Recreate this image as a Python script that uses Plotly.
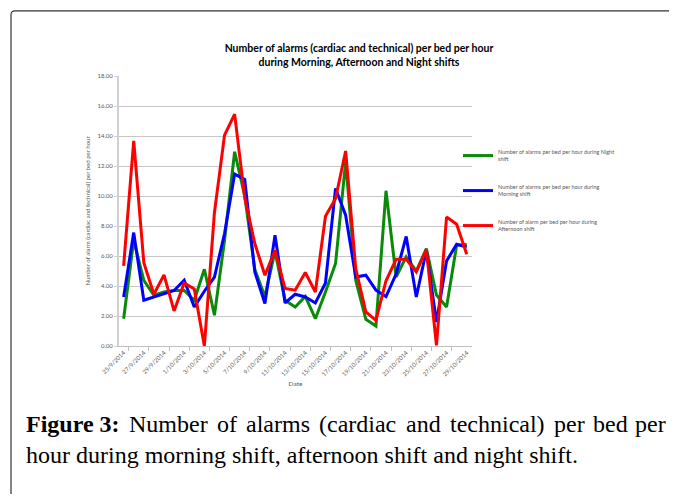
import plotly.graph_objects as go
import pandas as pd

# daily values, 25/9/2014 .. 29/10/2014
dates = pd.date_range("2014-09-25", "2014-10-29", freq="D")

night = [1.82, 7.05, 4.38, 3.38, 3.60, 3.70, 3.70, 3.05, 5.12, 2.05,
         7.05, 12.95, 10.0, 5.1, 3.3, 6.3, 3.05, 2.6, 3.3, 1.82,
         3.6, 5.5, 12.28, 4.38, 1.78, 1.33, 10.35, 4.6, 5.94, 5.0,
         6.5, 3.4, 2.6, 6.72, 6.76]
morning = [3.27, 7.56, 3.05, 3.27, 3.50, 3.70, 4.38, 2.60, 3.65, 4.60,
           7.50, 11.46, 11.10, 4.94, 2.83, 7.39, 2.87, 3.45, 3.27, 2.87,
           4.20, 10.50, 8.72, 4.60, 4.72, 3.72, 3.30, 4.80, 7.30, 3.27,
           6.38, 1.60, 5.67, 6.78, 6.60]
afternoon = [5.34, 13.68, 5.56, 3.45, 4.74, 2.34, 4.20, 3.80, 0.0, 8.90,
             14.06, 15.46, 9.90, 6.83, 4.72, 6.38, 3.83, 3.72, 4.90, 3.60,
             8.65, 9.83, 13.0, 5.16, 2.27, 1.71, 4.35, 5.78, 5.78, 4.94,
             6.43, 0.04, 8.60, 8.12, 6.12]

series_names = [
    "Number of alarms per bed per hour during Night<br>shift",
    "Number of alarms per bed per hour during<br>Morning shift",
    "Number of alarm per bed per hour during<br>Afternoon shift",
]
colors = ["#0a8a0a", "#0000ff", "#ff0000"]

tick_dates = dates[::2]
tick_text = [f"{d.day}/{d.month}/{d.year}" for d in tick_dates]

caption_words = ["Figure 3:", "Number", "of", "alarms", "(cardiac",
                 "and", "technical)", "per", "bed", "per"]
caption_line2 = "hour during morning shift, afternoon shift and night shift."

# page has an 8px body margin, so figure is drawn 8px in from the window
OFF = 8
W, H = 677 - OFF, 502 - 2 * OFF
# plot area in window pixels
L, R, T, B = 119, 472, 76, 345.7


def px(x):
    return (x - L) / (R - L)


def py(y):
    return (B - y) / (B - T)


# Times-style advance widths (1/1000 em) to justify the first caption line
_REG = dict(zip("abcdefghijklmnopqrstuvwxyz",
                [444, 500, 444, 500, 444, 333, 500, 500, 278, 278, 500, 278, 778,
                 500, 500, 500, 500, 333, 389, 278, 500, 500, 722, 500, 500, 444]))
_REG.update({"N": 722, "(": 333, ")": 333, ":": 278, " ": 250, "3": 500})
_BOLD = {"F": 611, "i": 278, "g": 500, "u": 556, "r": 444, "e": 444,
         " ": 250, "3": 500, ":": 333}


def text_width(s, size, bold=False):
    tbl = _BOLD if bold else _REG
    return sum(tbl.get(c, 500) for c in s) * size / 1000


fig = go.Figure()
for name, vals, col in zip(series_names, [night, morning, afternoon], colors):
    fig.add_trace(go.Scatter(
        x=dates, y=vals, mode="lines", name=name,
        line=dict(color=col, width=3), legendgroup=name,
    ))

# rounded frame around the figure
x0, y0, r = px(11), py(11), 4
frame = (f"M {x0},{py(520)} L {x0},{py(11 + r)} "
         f"Q {x0},{y0} {px(11 + r)},{y0} L {px(700)},{y0}")
fig.add_shape(type="path", path=frame, xref="paper", yref="paper",
              line=dict(color="#333333", width=1.2))

cap_size = 24
cap_font = dict(family="Liberation Serif", size=cap_size, color="#000000")
widths = [text_width(w, cap_size, bold=(i == 0)) for i, w in enumerate(caption_words)]
left, right = 24, 666
gap = (right - left - sum(widths)) / (len(caption_words) - 1)
cx = left
last = len(caption_words) - 1
for i, (w, ww) in enumerate(zip(caption_words, widths)):
    fig.add_annotation(
        x=px(668 if i == last else cx), y=py(424), xref="paper", yref="paper",
        xanchor="right" if i == last else "left",
        yanchor="middle", showarrow=False,
        text=f"<b>{w}</b>" if i == 0 else w, font=cap_font,
    )
    cx += ww + gap
fig.add_annotation(
    x=px(24), y=py(455), xref="paper", yref="paper", xanchor="left",
    yanchor="middle", showarrow=False, align="left",
    text=caption_line2, font=cap_font,
)

fig.update_layout(
    width=W, height=H,
    margin=dict(l=L - OFF, r=W - (R - OFF), t=T - OFF, b=H - (B - OFF), pad=0),
    paper_bgcolor="white", plot_bgcolor="white",
    font=dict(family="Lato", size=6, color="#595959"),
    title=dict(
        text="<b>Number of alarms (cardiac and technical) per bed per hour<br>"
             "during Morning, Afternoon and Night shifts</b>",
        x=(359 - OFF) / W, xanchor="center", y=1 - (52 - OFF) / H,
        yanchor="middle",
        font=dict(family="Lato", size=10.5, color="#000000"),
    ),
    xaxis=dict(
        range=[pd.Timestamp("2014-09-24 13:00"), pd.Timestamp("2014-10-29 12:30")],
        tickmode="array", tickvals=tick_dates, ticktext=tick_text,
        tickangle=-45, tickfont=dict(size=6, color="#595959"),
        showgrid=False, showline=True, linecolor="#bfbfbf", linewidth=1,
        ticks="", zeroline=False,
        minor=dict(ticks="outside", ticklen=4, tickcolor="#bfbfbf",
                   tickmode="array",
                   tickvals=[d + pd.Timedelta(hours=12) for d in tick_dates[:-1]]),
        title=dict(text="Date", font=dict(size=6.5, color="#595959"), standoff=4),
    ),
    yaxis=dict(
        range=[0, 18], dtick=2, tick0=0, tickformat=".2f",
        tickfont=dict(size=6, color="#595959"),
        showgrid=True, gridcolor="#c6c6c6", gridwidth=1,
        showline=True, linecolor="#d0d0d0", linewidth=2,
        ticks="outside", ticklen=3, tickcolor="#d0d0d0", zeroline=False,
        title=dict(text="Number of alarm (cardiac and technical) per bed per hour",
                   font=dict(size=6, color="#595959"), standoff=6),
    ),
    legend=dict(
        x=px(458), y=py(141), xanchor="left", yanchor="top",
        font=dict(size=5.5, color="#595959"), tracegroupgap=16,
        itemwidth=30, bgcolor="rgba(0,0,0,0)",
    ),
)

fig.write_html("out.html")
